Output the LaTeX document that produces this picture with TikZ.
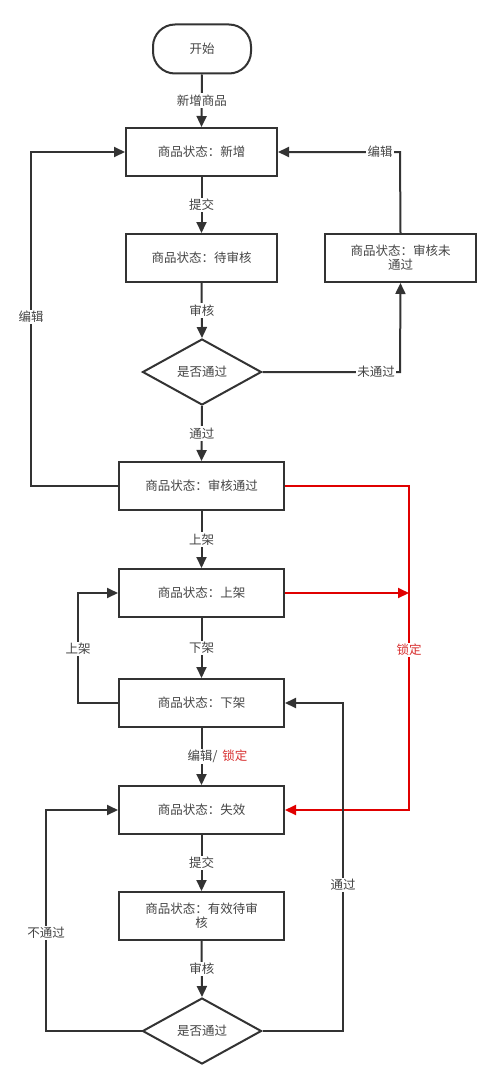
\documentclass[tikz,border=0pt]{standalone}
\usepackage{fontspec}
\newfontfamily\cjk{Noto Sans CJK SC}
\usetikzlibrary{arrows.meta,shapes.geometric}
\definecolor{ln}{HTML}{333333}
\definecolor{tx}{HTML}{444444}
\definecolor{rd}{HTML}{E00000}
\definecolor{rtx}{HTML}{D83030}
\begin{document}
\begin{tikzpicture}[x=1pt,y=-1pt,
  font=\cjk\fontsize{12.5}{15}\selectfont, text=tx,
  box/.style={draw=ln,line width=2pt,rectangle,minimum width=165pt,minimum height=48pt,inner sep=2pt,align=center},
  sbox/.style={box,minimum width=151pt},
  dec/.style={draw=ln,line width=2pt,diamond,minimum width=119pt,minimum height=66pt,inner sep=0pt},
  arr/.style={draw=ln,line width=2pt,-{Triangle[length=11pt,width=10pt]}},
  rarr/.style={draw=rd,line width=2pt,-{Triangle[length=11pt,width=10pt]}},
  lbl/.style={fill=white,inner sep=1.5pt},
]
\useasboundingbox (0,0) rectangle (500,1089);
\node[draw=ln,line width=2pt,rounded corners=22pt,minimum width=98pt,minimum height=49pt] (start) at (202,49) {开始};
\node[sbox] (n1) at (201.5,152) {商品状态：新增};
\node[sbox] (n2) at (201.5,258) {商品状态：待审核};
\node[sbox] (n3) at (400.5,258) {商品状态：审核未\\[-1pt]通过};
\node[dec] (d1) at (202,372) {是否通过};
\node[box] (n4) at (201.5,486) {商品状态：审核通过};
\node[box] (n5) at (201.5,593) {商品状态：上架};
\node[box] (n6) at (201.5,703) {商品状态：下架};
\node[box] (n7) at (201.5,810) {商品状态：失效};
\node[box] (n8) at (201.5,916) {商品状态：有效待审\\[-1pt]核};
\node[dec] (d2) at (202,1031) {是否通过};

\draw[arr] (start.south) -- node[lbl]{新增商品} (n1.north);
\draw[arr] (n1.south) -- node[lbl]{提交} (n2.north);
\draw[arr] (n2.south) -- node[lbl]{审核} (d1.north);
\draw[arr] (d1.south) -- node[lbl]{通过} (n4.north);
\draw[arr] (n4.south) -- node[lbl]{上架} (n5.north);
\draw[arr] (n5.south) -- node[lbl]{下架} (n6.north);
\draw[arr] (n6.south) -- node[lbl,xshift=16pt]{编辑/\hspace{0.4em}\textcolor{rtx}{锁定}} (n7.north);
\draw[arr] (n7.south) -- node[lbl]{提交} (n8.north);
\draw[arr] (n8.south) -- node[lbl]{审核} (d2.north);

\coordinate (c1) at (31,486);
\coordinate (c2) at (31,152);
\draw[arr] (n4.west) -- (c1) -- (c2) -- (n1.west);
\node[lbl] at (31,317) {编辑};

\coordinate (c3) at (400,152);
\draw[arr] (n3.north) -- (c3) -- (n1.east);
\node[lbl] at (380,152) {编辑};

\coordinate (c4) at (400,372);
\draw[arr] (d1.east) -- (c4) -- (n3.south);
\node[lbl] at (376,372) {未通过};

\coordinate (c5) at (409,486);
\coordinate (c6) at (409,810);
\coordinate (c7) at (409,593);
\draw[rarr] (n4.east) -- (c5) -- (c6) -- (n7.east);
\draw[rarr] (n5.east) -- (c7);
\node[lbl,text=rtx] at (409,650) {锁定};

\coordinate (c8) at (78,703);
\coordinate (c9) at (78,593);
\draw[arr] (n6.west) -- (c8) -- (c9) -- (n5.west);
\node[lbl] at (78,649) {上架};

\coordinate (c10) at (46,1031);
\coordinate (c11) at (46,810);
\draw[arr] (d2.west) -- (c10) -- (c11) -- (n7.west);
\node[lbl] at (46,933) {不通过};

\coordinate (c12) at (343,1031);
\coordinate (c13) at (343,703);
\draw[arr] (d2.east) -- (c12) -- (c13) -- (n6.east);
\node[lbl] at (343,885) {通过};
\end{tikzpicture}
\end{document}
